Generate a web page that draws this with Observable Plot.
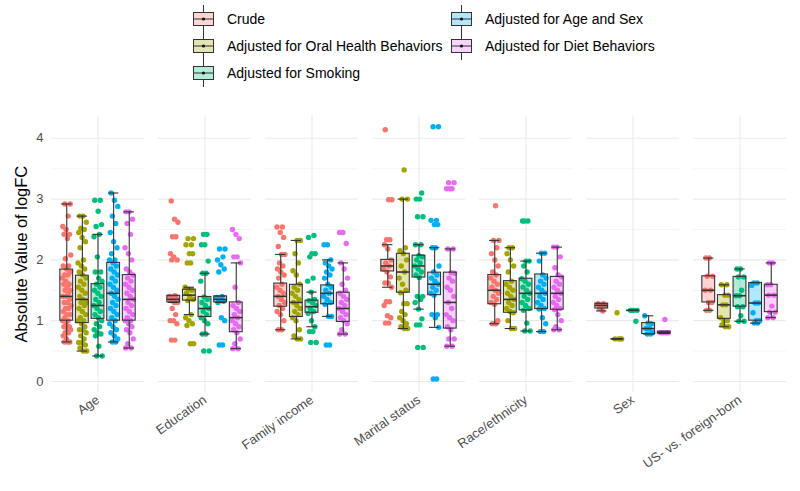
<!DOCTYPE html>
<html>
<head>
<meta charset="utf-8">
<script src="https://cdn.jsdelivr.net/npm/d3@7"></script>
<script src="https://cdn.jsdelivr.net/npm/@observablehq/plot@0.6"></script>
<style>
  html, body { margin: 0; padding: 0; background: #fff; }
  body { width: 800px; height: 491px; overflow: hidden; font-family: "Liberation Sans", Arial, sans-serif; }
  #legend { position: relative; width: 800px; height: 95px; font-size: 14px; color: #000; }
  .item { position: absolute; display: flex; align-items: center; height: 28px; }
  .item svg { display: block; margin-right: 13px; }
  #chart svg { display: block; }
</style>
</head>
<body>
<div id="legend"></div>
<div id="chart"></div>
<script>
// ---- data ----
const categories = ["Age", "Education", "Family income", "Marital status", "Race/ethnicity", "Sex", "US- vs. foreign-born"];
const series = ["Crude", "Adjusted for Oral Health Behaviors", "Adjusted for Smoking", "Adjusted for Age and Sex", "Adjusted for Diet Behaviors"];
const seriesColors = ["#F8766D", "#A3A500", "#00BF7D", "#00B0F6", "#E76BF3"];

// points per category, one list per series (Crude, Oral, Smoking, Age&Sex, Diet)
const ptsAge = [
  [0.65,0.65,0.65,0.7,0.75,0.8,0.8,0.85,0.85,0.9,0.9,0.95,1.0,1.0,1.05,1.1,1.1,1.15,1.2,1.2,1.25,1.3,1.3,1.35,1.4,1.4,1.45,1.5,1.5,1.55,1.6,1.6,1.65,1.7,1.75,1.75,1.8,1.85,1.9,1.9,2.02,2.08,2.35,2.42,2.42,2.5,2.55,2.72,2.92,2.92],
  [0.5,0.5,0.55,0.6,0.64,0.64,0.7,0.75,0.8,0.85,0.85,0.9,0.95,1.0,1.0,1.05,1.1,1.15,1.2,1.25,1.3,1.3,1.35,1.4,1.45,1.5,1.55,1.6,1.65,1.7,1.75,1.8,1.85,1.9,1.95,2.0,2.2,2.3,2.37,2.45,2.5,2.52,2.62,2.72,2.72],
  [0.42,0.42,0.58,0.75,0.78,0.8,0.85,0.9,0.95,1.0,1.05,1.1,1.15,1.2,1.25,1.3,1.35,1.4,1.45,1.5,1.55,1.6,1.65,1.7,1.8,1.8,2.05,2.38,2.42,2.55,2.58,2.8,2.98,2.98],
  [0.65,0.65,0.7,0.75,0.8,0.85,0.9,0.95,1.0,1.05,1.1,1.15,1.2,1.25,1.3,1.35,1.4,1.45,1.5,1.55,1.6,1.65,1.7,1.75,1.8,1.85,1.9,1.95,2.0,2.0,2.1,2.2,2.3,2.45,2.6,2.72,2.88,2.98,3.1],
  [0.55,0.55,0.62,0.7,0.8,0.85,0.9,0.95,1.0,1.0,1.05,1.1,1.15,1.2,1.25,1.3,1.35,1.4,1.45,1.5,1.55,1.6,1.65,1.7,1.75,1.8,1.85,2.0,2.1,2.2,2.42,2.6,2.67,2.79,2.79]
];
const ptsEducation = [
  [0.68,0.68,0.95,1.0,1.0,1.1,1.2,1.3,1.3,1.33,1.36,1.38,1.4,1.41,2.0,2.0,2.05,2.1,2.38,2.38,2.62,2.67,2.97],
  [0.62,0.62,0.92,0.95,1.0,1.05,1.1,1.33,1.35,1.4,1.45,1.5,1.51,1.55,1.95,1.95,2.1,2.1,2.25,2.25,2.35,2.35],
  [0.5,0.5,0.78,0.78,0.95,1.0,1.05,1.1,1.15,1.2,1.25,1.3,1.35,1.39,1.65,1.78,1.78,1.98,2.25,2.25,2.42,2.42],
  [0.6,0.6,1.0,1.05,1.3,1.32,1.35,1.38,1.4,1.8,1.85,1.92,2.0,2.05,2.18,2.18],
  [0.54,0.54,0.62,0.7,0.8,0.85,0.9,0.95,1.0,1.05,1.1,1.15,1.2,1.25,1.3,1.55,1.95,2.05,2.05,2.35,2.42,2.5]
];
const ptsIncome = [
  [0.85,0.85,1.0,1.1,1.15,1.2,1.25,1.3,1.35,1.4,1.45,1.5,1.55,1.6,1.7,1.75,1.8,1.85,1.9,1.95,2.09,2.09,2.22,2.37,2.45,2.54,2.54],
  [0.7,0.7,0.75,0.85,1.0,1.05,1.1,1.15,1.2,1.25,1.3,1.35,1.4,1.45,1.5,1.55,1.6,1.75,1.82,1.95,2.1,2.32,2.32],
  [0.64,0.64,0.82,0.82,0.9,1.0,1.12,1.15,1.2,1.25,1.3,1.33,1.35,1.47,1.65,1.7,2.05,2.1,2.1,2.37,2.4],
  [0.6,0.6,1.07,1.07,1.27,1.3,1.35,1.4,1.45,1.5,1.55,1.6,1.7,1.75,1.8,1.85,1.9,1.95,2.0,2.25,2.25],
  [0.78,0.78,0.85,0.95,1.0,1.05,1.1,1.15,1.2,1.25,1.3,1.35,1.4,1.45,1.5,1.6,1.7,1.85,1.95,2.27,2.45,2.45]
];
const ptsMarital = [
  [0.96,0.96,1.05,1.08,1.25,1.31,1.31,1.55,1.62,1.62,1.72,1.8,1.85,1.9,1.95,2.0,2.18,2.25,2.33,2.33,2.99,2.99,4.14],
  [0.87,0.87,0.9,0.95,1.0,1.05,1.1,1.15,1.28,1.28,1.46,1.5,1.6,1.7,1.8,1.9,2.0,2.1,2.15,2.2,3.0,3.0,3.48],
  [0.56,0.56,0.93,0.93,1.03,1.19,1.3,1.35,1.4,1.4,1.71,1.75,1.8,1.85,1.9,1.95,2.0,2.05,2.07,2.25,2.25,2.71,2.71,3.0,3.0,3.1],
  [0.04,0.04,0.89,1.05,1.1,1.1,1.42,1.45,1.5,1.55,1.6,1.65,1.7,1.75,1.8,1.9,2.2,2.2,2.58,2.58,2.65,2.65,4.19,4.19],
  [0.58,0.58,0.7,0.7,0.85,0.9,1.0,1.05,1.1,1.2,1.3,1.4,1.5,1.55,1.65,1.7,1.78,1.79,2.18,2.18,3.17,3.17,3.17,3.27,3.27]
];
const ptsRace = [
  [0.95,0.95,1.0,1.27,1.3,1.35,1.4,1.45,1.5,1.55,1.6,1.65,1.7,1.75,1.8,1.9,2.0,2.1,2.2,2.32,2.32,2.89],
  [0.87,0.87,1.0,1.13,1.15,1.2,1.25,1.3,1.35,1.4,1.45,1.5,1.55,1.6,1.65,1.8,1.9,2.0,2.1,2.2,2.2],
  [0.83,0.83,0.96,1.17,1.2,1.25,1.3,1.35,1.4,1.45,1.5,1.55,1.6,1.65,1.69,1.8,1.9,1.98,1.98,2.64,2.64,2.64],
  [0.82,0.82,0.95,1.05,1.19,1.2,1.25,1.3,1.35,1.4,1.45,1.5,1.55,1.6,1.65,1.7,1.75,1.98,2.11,2.11],
  [0.85,0.85,0.9,1.0,1.1,1.18,1.2,1.25,1.3,1.35,1.4,1.45,1.5,1.55,1.6,1.65,1.72,1.75,1.87,2.05,2.21,2.21]
];
const ptsSex = [
  [1.16,1.2,1.25,1.25,1.28,1.28],
  [0.7,0.7,0.7,0.7,1.13],
  [1.17,1.17,1.17,1.17,0.99],
  [0.78,0.78,0.8,0.87,0.87,0.95,0.96,1.08],
  [0.8,0.8,0.8,0.8,1.02]
];
const ptsBirth = [
  [1.17,1.17,1.3,1.3,1.5,1.5,1.73,1.73,2.03,2.03],
  [0.9,0.9,0.93,1.0,1.0,1.05,1.26,1.26,1.42,1.42,1.59,1.59],
  [0.99,0.99,1.08,1.23,1.23,1.41,1.41,1.5,1.72,1.72,1.85,1.85],
  [0.96,0.96,1.0,1.0,1.13,1.29,1.29,1.58,1.62,1.62],
  [1.05,1.05,1.14,1.14,1.24,1.42,1.42,1.59,1.59,1.95,1.95]
];
const pointsByCategory = [ptsAge, ptsEducation, ptsIncome, ptsMarital, ptsRace, ptsSex, ptsBirth];

// box statistics, rows = categories, columns = series
const boxQ1 = [
  [1.00,0.96,1.03,1.00,1.00],[1.30,1.33,1.06,1.30,0.81],[1.23,1.06,1.13,1.27,0.98],
  [1.81,1.46,1.71,1.42,0.87],[1.27,1.13,1.17,1.19,1.18],[1.20,0.70,1.17,0.78,0.79],[1.30,1.03,1.23,1.00,1.14]
];
const boxMedian = [
  [1.40,1.35,1.25,1.45,1.35],[1.35,1.42,1.20,1.35,1.05],[1.40,1.30,1.23,1.45,1.20],
  [1.90,1.80,1.90,1.60,1.30],[1.50,1.35,1.45,1.45,1.45],[1.25,0.70,1.17,0.87,0.80],[1.50,1.26,1.41,1.29,1.42]
];
const boxQ3 = [
  [1.84,1.74,1.60,1.95,1.75],[1.41,1.51,1.39,1.40,1.30],[1.61,1.59,1.33,1.58,1.46],
  [2.00,2.10,2.07,1.79,1.79],[1.75,1.65,1.69,1.76,1.72],[1.28,0.70,1.17,0.96,0.82],[1.73,1.42,1.72,1.62,1.59]
];
const whiskerLow = [
  [0.65,0.50,0.42,0.65,0.55],[1.30,1.10,0.78,1.30,0.54],[0.85,0.70,0.90,1.07,0.78],
  [1.55,0.87,1.19,0.89,0.58],[0.95,0.87,0.83,0.82,0.85],[1.16,0.70,1.17,0.78,0.79],[1.17,0.90,0.99,0.96,1.05]
];
const whiskerHigh = [
  [2.92,2.72,2.42,3.10,2.79],[1.41,1.55,1.78,1.40,1.95],[2.09,2.32,1.47,2.00,1.95],
  [2.25,3.00,2.25,2.20,2.18],[2.32,2.20,1.98,2.11,2.21],[1.28,0.70,1.17,1.08,0.82],[2.03,1.59,1.85,1.62,1.95]
];
const yTicks = [0, 1, 2, 3, 4];
const yMinor = [0.5, 1.5, 2.5, 3.5];

// ---- build tables ----
const points = [];
pointsByCategory.forEach((groups, ci) => {
  groups.forEach((vals, si) => {
    vals.forEach((v, k) => {
      const j = (((k + 1) * 0.6180339887 + si * 0.37) % 1 - 0.5) * 0.56; // deterministic horizontal jitter
      points.push({cat: categories[ci], s: si, v, j});
    });
  });
});
const boxes = [];
categories.forEach((c, ci) => {
  series.forEach((name, si) => {
    boxes.push({cat: c, s: si, q1: boxQ1[ci][si], med: boxMedian[ci][si], q3: boxQ3[ci][si],
      lo: whiskerLow[ci][si], hi: whiskerHigh[ci][si]});
  });
});
const col = d => seriesColors[d.s];
const hw = 0.41, cw = 0.33;

// ---- legend ----
const legend = d3.select("#legend");
const legendPos = [[0,0],[0,1],[0,2],[1,0],[1,1]];
const colX = [193, 451], rowY = [19, 46, 73];
series.forEach((name, i) => {
  const [c, r] = legendPos[i];
  const item = legend.append("div").attr("class", "item")
    .style("left", colX[c] + "px").style("top", (rowY[r] - 14) + "px");
  const svg = item.append("svg").attr("width", 21).attr("height", 28);
  const pastel = d3.interpolateRgb("#ffffff", seriesColors[i])(0.3);
  svg.append("line").attr("x1", 10.5).attr("x2", 10.5).attr("y1", 0).attr("y2", 28).attr("stroke", "#333").attr("stroke-width", 1);
  svg.append("rect").attr("x", 0.5).attr("y", 7.5).attr("width", 20).attr("height", 13).attr("fill", pastel).attr("stroke", "#333").attr("stroke-width", 1);
  svg.append("line").attr("x1", 0.5).attr("x2", 20.5).attr("y1", 14).attr("y2", 14).attr("stroke", "#333").attr("stroke-width", 1);
  svg.append("circle").attr("cx", 10.5).attr("cy", 14).attr("r", 1.6).attr("fill", "#111");
  item.append("span").text(name);
});

// ---- chart ----
const chart = Plot.plot({
  width: 800,
  height: 396,
  marginLeft: 48,
  marginRight: 11,
  marginTop: 20.3,
  marginBottom: 99.1,
  style: {fontFamily: "'Liberation Sans', Arial, sans-serif", background: "#fff"},
  fx: {domain: categories, paddingInner: 0.13, paddingOuter: 0, label: null},
  x: {domain: [-0.975, 4.975], axis: null},
  y: {domain: [-0.18, 4.37], label: null},
  marks: [
    Plot.gridY(yMinor, {stroke: "#EBEBEB", strokeOpacity: 1, strokeWidth: 0.55}),
    Plot.gridY(yTicks, {stroke: "#EBEBEB", strokeOpacity: 1, strokeWidth: 1.1}),
    Plot.ruleX([2], {stroke: "#EBEBEB", strokeWidth: 1.1}),
    Plot.axisY({ticks: yTicks, tickFormat: d => String(d), tickSize: 0, tickPadding: 8, fontSize: 13, color: "#4D4D4D", label: null}),
    Plot.axisFx({anchor: "bottom", tickRotate: -35, tickSize: 0, tickPadding: 6, fontSize: 13, color: "#4D4D4D", label: null}),
    Plot.dot(points, {fx: "cat", x: d => d.s + d.j, y: "v", r: 2.7, fill: col, stroke: null}),
    Plot.ruleX(boxes, {fx: "cat", x: "s", y1: "q3", y2: "hi", stroke: "#333", strokeWidth: 1.1}),
    Plot.ruleX(boxes, {fx: "cat", x: "s", y1: "lo", y2: "q1", stroke: "#333", strokeWidth: 1.1}),
    Plot.ruleY(boxes, {fx: "cat", x1: d => d.s - cw, x2: d => d.s + cw, y: "hi", stroke: "#333", strokeWidth: 1.1}),
    Plot.ruleY(boxes, {fx: "cat", x1: d => d.s - cw, x2: d => d.s + cw, y: "lo", stroke: "#333", strokeWidth: 1.1}),
    Plot.rect(boxes, {fx: "cat", x1: d => d.s - hw, x2: d => d.s + hw, y1: "q1", y2: "q3", fill: col, fillOpacity: 0.3, stroke: "#333", strokeWidth: 1.1}),
    Plot.ruleY(boxes, {fx: "cat", x1: d => d.s - hw, x2: d => d.s + hw, y: "med", stroke: "#333", strokeWidth: 1.6}),
    Plot.text(["Absolute Value of logFC"], {facet: "super", frameAnchor: "left", textAnchor: "middle", dx: -30, rotate: -90, fontSize: 16.5, fill: "#000"})
  ]
});
document.getElementById("chart").appendChild(chart);
</script>
</body>
</html>
